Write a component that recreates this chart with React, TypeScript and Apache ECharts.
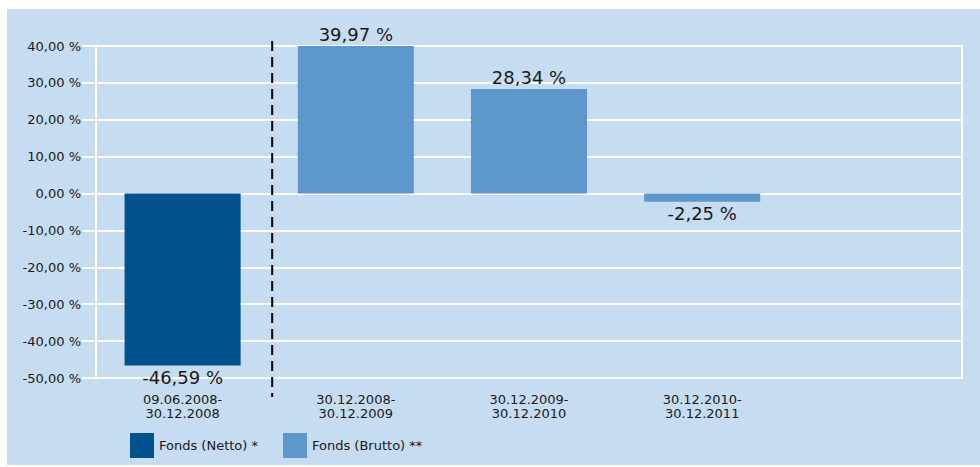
import React, { useEffect, useRef } from "react";
import * as echarts from "echarts";

const categories = [
  "09.06.2008-\n30.12.2008",
  "30.12.2008-\n30.12.2009",
  "30.12.2009-\n30.12.2010",
  "30.12.2010-\n30.12.2011",
  "",
];
const nettoValues: (number | string)[] = [-46.59, "-", "-", "-", "-"];
const bruttoValues: (number | string)[] = ["-", 39.97, 28.34, -2.25, "-"];
const seriesNames = ["Fonds (Netto) *", "Fonds (Brutto) **"];
const yTicks = { min: -50, max: 40, interval: 10 };

const FONT = "'DejaVu Sans', sans-serif";
const TEXT = "#1a1a1a";

const fmt = (v: number) => v.toFixed(2).replace(".", ",") + " %";

const toData = (arr: (number | string)[]) =>
  arr.map((v) =>
    typeof v === "number"
      ? { value: v, label: { position: v >= 0 ? "top" : "bottom" } }
      : v
  );

export default function App() {
  const ref = useRef<HTMLDivElement>(null);
  useEffect(() => {
    document.body.style.margin = "0";
    const chart = echarts.init(ref.current!, undefined, { renderer: "svg" });
    const label = {
      show: true,
      fontFamily: FONT,
      fontSize: 18,
      color: TEXT,
      distance: 3,
      formatter: (p: any) => fmt(p.value),
    };
    const bg = {
      type: "rect",
      z: -10,
      silent: true,
      shape: { x: 7, y: 9, width: 973, height: 456 },
      style: { fill: "#c6dcf0" },
    };
    chart.setOption({
      animation: false,
      textStyle: { fontFamily: FONT },
      graphic: [bg],
      legend: {
        left: 125,
        top: 428,
        itemWidth: 24,
        itemHeight: 25,
        itemGap: 25,
        icon: "rect",
        textStyle: { fontFamily: FONT, fontSize: 13, color: TEXT },
        data: seriesNames,
      },
      grid: {
        left: 96,
        right: 18,
        top: 46,
        bottom: 89,
        show: true,
        borderColor: "#ffffff",
        borderWidth: 2,
        backgroundColor: "transparent",
      },
      xAxis: {
        type: "category",
        data: categories,
        axisLine: { show: false, onZero: false },
        axisTick: { show: false },
        axisLabel: {
          fontFamily: FONT,
          fontSize: 13,
          color: TEXT,
          lineHeight: 14,
          margin: 14,
          interval: 0,
        },
      },
      yAxis: {
        type: "value",
        min: yTicks.min,
        max: yTicks.max,
        interval: yTicks.interval,
        axisLine: { show: true, lineStyle: { color: "#ffffff", width: 2 } },
        axisTick: {
          show: true,
          length: 14,
          lineStyle: { color: "#ffffff", width: 2 },
        },
        splitLine: { show: true, lineStyle: { color: "#ffffff", width: 2 } },
        axisLabel: {
          fontFamily: FONT,
          fontSize: 13,
          color: TEXT,
          margin: 15,
          formatter: (v: number) => fmt(v),
        },
      },
      series: [
        {
          name: seriesNames[0],
          type: "bar",
          data: toData(nettoValues),
          barWidth: "67%",
          barGap: "-100%",
          itemStyle: { color: "#00518c" },
          label,
        },
        {
          name: seriesNames[1],
          type: "bar",
          data: toData(bruttoValues),
          barWidth: "67%",
          barGap: "-100%",
          itemStyle: { color: "#5e97cc" },
          label,
        },
      ],
    });
    const c0 = chart.convertToPixel({ xAxisIndex: 0 }, 0) as number;
    const c1 = chart.convertToPixel({ xAxisIndex: 0 }, 1) as number;
    const xDiv = (c0 + c1) / 2 + 3;
    chart.setOption({
      graphic: [
        bg,
        {
          type: "line",
          z: 100,
          silent: true,
          shape: { x1: xDiv, y1: 41, x2: xDiv, y2: 397 },
          style: { stroke: "#000000", lineWidth: 2, lineDash: [10, 6] },
        },
      ],
    });
    return () => chart.dispose();
  }, []);
  return <div ref={ref} style={{ width: 980, height: 467 }} />;
}
